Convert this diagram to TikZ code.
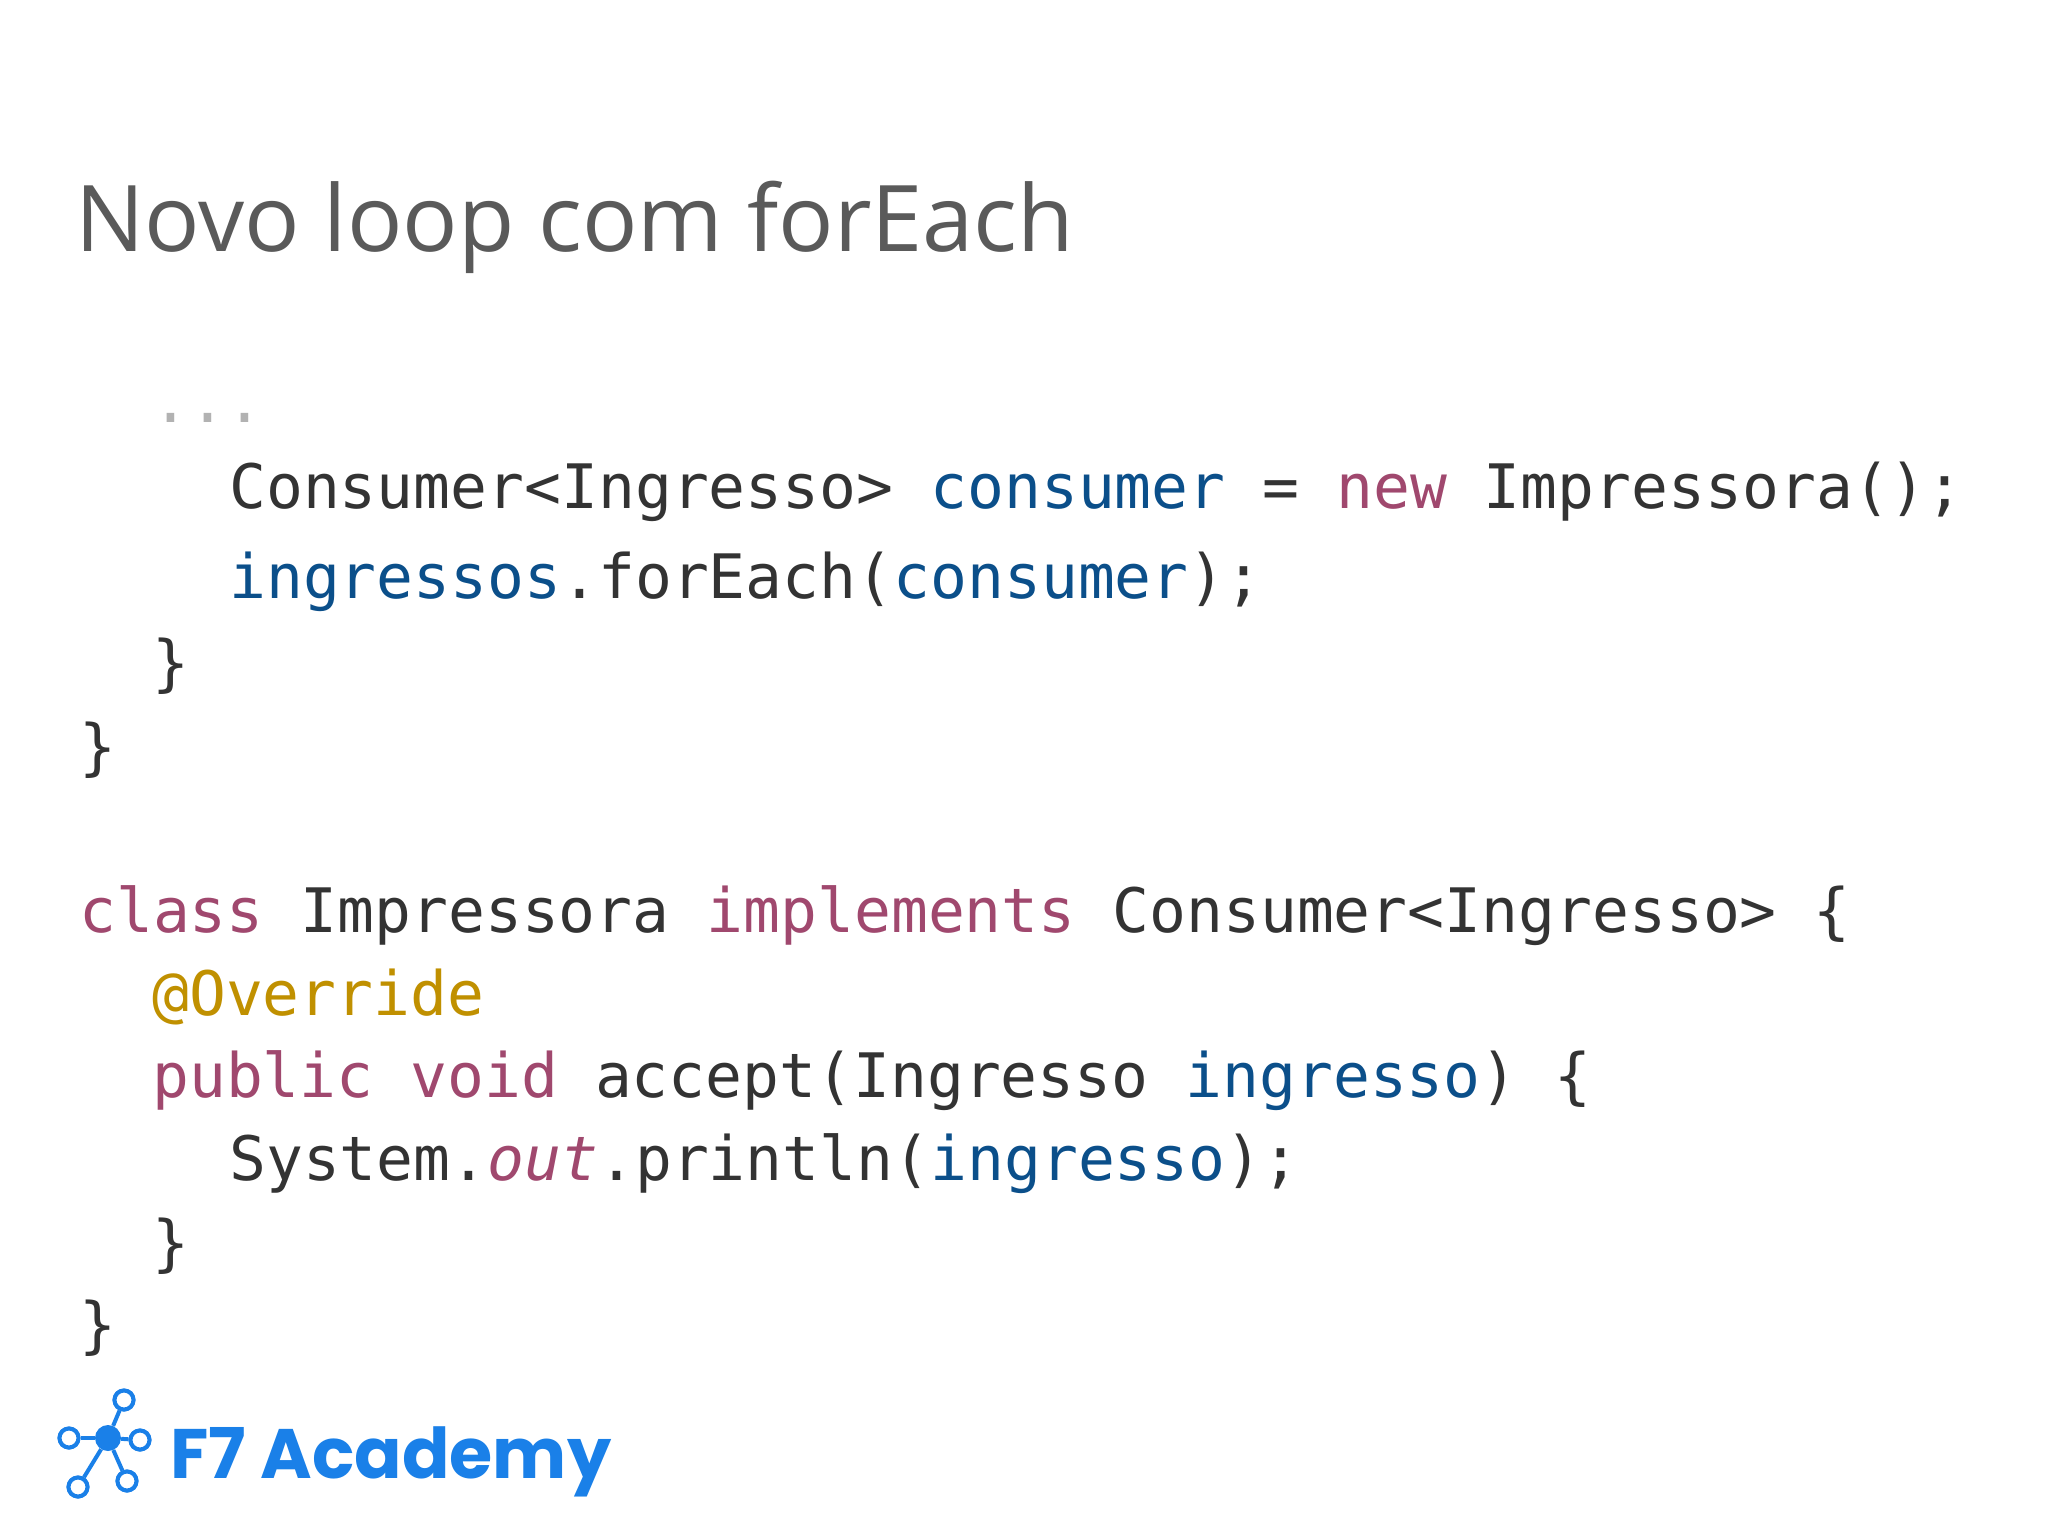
\documentclass[tikz,border=0pt]{standalone}
\usepackage{fontspec}
\setmonofont{DejaVu Sans Mono}
\newfontfamily\titlefont{Open Sans}
\newfontfamily\logofont{Poppins}
\definecolor{txt}{HTML}{333333}
\definecolor{blu}{HTML}{0B4F8A}
\definecolor{pur}{HTML}{A0486E}
\definecolor{gld}{HTML}{C09000}
\definecolor{ttl}{HTML}{5A5A5A}
\definecolor{logo}{HTML}{1A80E8}
\begin{document}
\begin{tikzpicture}[x=1pt,y=-1pt,
  code/.style={anchor=base west,inner sep=0pt,text=txt,font=\ttfamily\fontsize{61.3}{62}\selectfont},
  lnk/.style={draw=logo,line width=4pt},
  ring/.style={circle,draw=logo,line width=4pt,minimum size=19pt,inner sep=0pt,fill=white}]
\useasboundingbox (0,0) rectangle (2048,1536);
\fill[white] (0,0) rectangle (2048,1536);
\node[anchor=base west,inner sep=0pt,text=ttl,font=\titlefont\fontsize{92}{92}\selectfont] (title) at (75,251) {Novo loop com forEach};
\node[code,text=black!30] (dots) at (152,422) {...};
\node[code] (l1) at (229,508) {Consumer<Ingresso> \textcolor{blu}{consumer} = \textcolor{pur}{new} Impressora();};
\node[code] (l2) at (229,598) {\textcolor{blu}{ingressos}.forEach(\textcolor{blu}{consumer});};
\node[code] (l3) at (152,684) {\}};
\node[code] (l4) at (79,768) {\}};
\node[code] (l5) at (79,932) {\textcolor{pur}{class} Impressora \textcolor{pur}{implements} Consumer<Ingresso> \{};
\node[code] (l6) at (152,1015) {\textcolor{gld}{@Override}};
\node[code] (l7) at (152,1097) {\textcolor{pur}{public void} accept(Ingresso \textcolor{blu}{ingresso}) \{};
\node[code] (l8) at (229,1180) {System.\textcolor{pur}{\itshape out}.println(\textcolor{blu}{ingresso});};
\node[code] (l9) at (152,1264) {\}};
\node[code] (l10) at (79,1346) {\}};
% logo
\begin{scope}[yshift=12pt]
\node[circle,fill=logo,minimum size=26pt,inner sep=0pt] (hub) at (108,1450) {};
\node[ring] (ra) at (124,1412) {};
\node[ring] (rb) at (69,1450) {};
\node[ring] (rc) at (140,1452) {};
\node[ring] (rd) at (78,1499) {};
\node[ring] (re) at (127,1493) {};
\foreach \r in {ra,rb,rc,rd,re} \draw[lnk] (hub) -- (\r);
\foreach \r in {ra,rb,rc,rd,re} \node[ring] at (\r) {};
\node[anchor=base west,inner sep=0pt,text=logo,font=\logofont\bfseries\fontsize{70}{70}\selectfont] (brand) at (170,1490) {F7 Academy};
\end{scope}
\end{tikzpicture}
\end{document}
